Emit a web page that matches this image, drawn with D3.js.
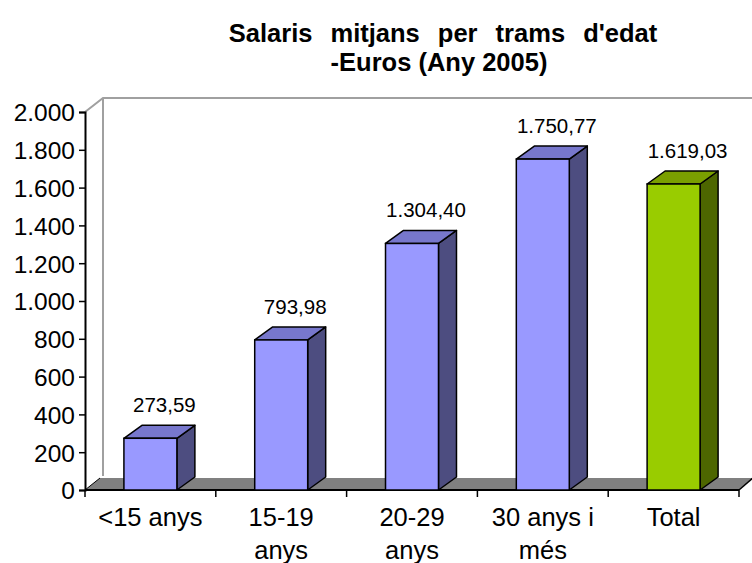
<!DOCTYPE html>
<html>
<head>
<meta charset="utf-8">
<script src="https://cdn.jsdelivr.net/npm/d3@7"></script>
<style>
  body { margin: 0; background: #fff; }
  svg { display: block; font-family: Arial, "Liberation Sans", sans-serif; }
</style>
</head>
<body>
<div id="chart"></div>
<script>
const categories = [["<15 anys"], ["15-19", "anys"], ["20-29", "anys"], ["30 anys i", "més"], ["Total"]];
const values = [273.59, 793.98, 1304.40, 1750.77, 1619.03];
const valueLabels = ["273,59", "793,98", "1.304,40", "1.750,77", "1.619,03"];
const yTicks = [0, 200, 400, 600, 800, 1000, 1200, 1400, 1600, 1800, 2000];
const yTickLabels = ["0", "200", "400", "600", "800", "1.000", "1.200", "1.400", "1.600", "1.800", "2.000"];

const chartWidth = 752, chartHeight = 563;
const plotLeft = 85, plotRight = 739, plotBottom = 490, plotTop = 112;
const wallDx = 18, wallDy = -14;
const barDx = 18, barDy = -13;

const svg = d3.select("#chart").append("svg")
    .attr("width", chartWidth)
    .attr("height", chartHeight);

// Title
const title = svg.append("text")
    .attr("text-anchor", "middle")
    .style("font-weight", "bold")
    .style("font-size", "25.5px")
    .style("fill", "#000");
title.append("tspan").attr("x", 443).attr("y", 42)
    .style("word-spacing", "11px")
    .text("Salaris mitjans per trams d'edat");
title.append("tspan").attr("x", 439).attr("y", 71)
    .text("-Euros (Any 2005)");

const idx = d3.range(values.length);

const x = d3.scaleBand()
    .domain(idx)
    .range([plotLeft, plotRight])
    .paddingInner(0.595)
    .paddingOuter(0.2975);

const y = d3.scaleLinear()
    .domain([0, 2000])
    .range([plotBottom, plotTop]);

// Back wall lines
svg.append("path")
    .attr("d", `M${plotLeft},${y(2000)} L${plotLeft + wallDx},${y(2000) + wallDy} L${chartWidth + 5},${y(2000) + wallDy}`)
    .attr("fill", "none")
    .attr("stroke", "#a0a0a0")
    .attr("stroke-width", 2);
svg.append("line")
    .attr("x1", plotLeft + wallDx).attr("x2", plotLeft + wallDx)
    .attr("y1", y(2000) + wallDy).attr("y2", plotBottom + wallDy)
    .attr("stroke", "#a0a0a0")
    .attr("stroke-width", 2);

// Floor
const floorBack = plotBottom - 12;
svg.append("path")
    .attr("d", `M${plotLeft},${plotBottom} L${plotLeft + 15},${floorBack} L${chartWidth + 5},${floorBack} L${chartWidth + 5},${plotBottom} Z`)
    .attr("fill", "#808080")
    .attr("stroke", "none");
svg.append("path")
    .attr("d", `M${plotLeft},${plotBottom} L${plotLeft + 15},${floorBack}`)
    .attr("stroke", "#000").attr("stroke-width", 1);
svg.append("rect")
    .attr("x", plotRight + 1).attr("y", plotBottom - 0.5)
    .attr("width", 20).attr("height", 10)
    .attr("fill", "#fff");
svg.append("path")
    .attr("d", `M${plotRight},${plotBottom} L${plotRight + 14},${floorBack} L${chartWidth + 5},${floorBack} L${chartWidth + 5},${plotBottom} Z`)
    .attr("fill", "#fff")
    .attr("stroke", "none");

// Y axis
const yAxis = svg.append("g")
    .attr("transform", `translate(${plotLeft},0)`)
    .call(d3.axisLeft(y).tickValues(yTicks).tickSize(6).tickPadding(4)
        .tickFormat((d, i) => yTickLabels[i]));
yAxis.select(".domain").attr("stroke", "#000").attr("stroke-width", 2);
yAxis.selectAll(".tick line").attr("stroke", "#000").attr("stroke-width", 1.5);
yAxis.selectAll(".tick text")
    .style("font-size", "24.5px")
    .style("font-family", "Arial, 'Liberation Sans', sans-serif")
    .attr("fill", "#000")
    .attr("dy", "0.36em");

// X axis line and ticks
const xb = d3.scaleLinear().domain([0, values.length]).range([plotLeft, plotRight]);
svg.append("line")
    .attr("x1", plotLeft).attr("x2", plotRight)
    .attr("y1", plotBottom).attr("y2", plotBottom)
    .attr("stroke", "#000").attr("stroke-width", 2);
svg.append("path")
    .attr("d", `M${plotRight},${plotBottom} L${plotRight + 14},${floorBack}`)
    .attr("stroke", "#000").attr("stroke-width", 1.5);
svg.selectAll(".xtick")
    .data(d3.range(values.length + 1))
    .enter().append("line")
    .attr("class", "xtick")
    .attr("x1", d => xb(d)).attr("x2", d => xb(d))
    .attr("y1", plotBottom).attr("y2", plotBottom + 7)
    .attr("stroke", "#000").attr("stroke-width", 1.5);

// Bars
const colors = idx.map(i => i === values.length - 1
    ? { front: "#99cc00", top: "#7a9f00", side: "#4d6600" }
    : { front: "#9999ff", top: "#7777cc", side: "#4d4d80" });

const bars = svg.selectAll(".bar")
    .data(idx)
    .enter().append("g")
    .attr("class", "bar");

bars.append("path")
    .attr("d", i => {
        const x1 = x(i) + x.bandwidth(), yt = y(values[i]);
        return `M${x1},${plotBottom} L${x1 + barDx},${plotBottom + barDy} L${x1 + barDx},${yt + barDy} L${x1},${yt} Z`;
    })
    .attr("fill", i => colors[i].side)
    .attr("stroke", "#000").attr("stroke-width", 1.5).attr("stroke-linejoin", "round");

bars.append("path")
    .attr("d", i => {
        const x0 = x(i), x1 = x(i) + x.bandwidth(), yt = y(values[i]);
        return `M${x0},${yt} L${x0 + barDx},${yt + barDy} L${x1 + barDx},${yt + barDy} L${x1},${yt} Z`;
    })
    .attr("fill", i => colors[i].top)
    .attr("stroke", "#000").attr("stroke-width", 1.5).attr("stroke-linejoin", "round");

bars.append("rect")
    .attr("x", i => x(i))
    .attr("y", i => y(values[i]))
    .attr("width", x.bandwidth())
    .attr("height", i => plotBottom - y(values[i]))
    .attr("fill", i => colors[i].front)
    .attr("stroke", "#000").attr("stroke-width", 1.5);

// Value labels
svg.selectAll(".vlabel")
    .data(idx)
    .enter().append("text")
    .attr("class", "vlabel")
    .attr("x", i => x(i) + x.bandwidth() / 2 + 14)
    .attr("y", i => y(values[i]) + barDy - 13)
    .attr("text-anchor", "middle")
    .style("font-size", "20.5px")
    .style("fill", "#000")
    .text(i => valueLabels[i]);

// Category labels
const cat = svg.selectAll(".clabel")
    .data(idx)
    .enter().append("text")
    .attr("class", "clabel")
    .attr("text-anchor", "middle")
    .style("font-size", "25.5px")
    .style("fill", "#000");
cat.selectAll("tspan")
    .data(i => categories[i].map(t => ({ t, i })))
    .enter().append("tspan")
    .attr("x", d => x(d.i) + x.bandwidth() / 2)
    .attr("y", (d, j) => 526 + j * 33)
    .text(d => d.t);
</script>
</body>
</html>
